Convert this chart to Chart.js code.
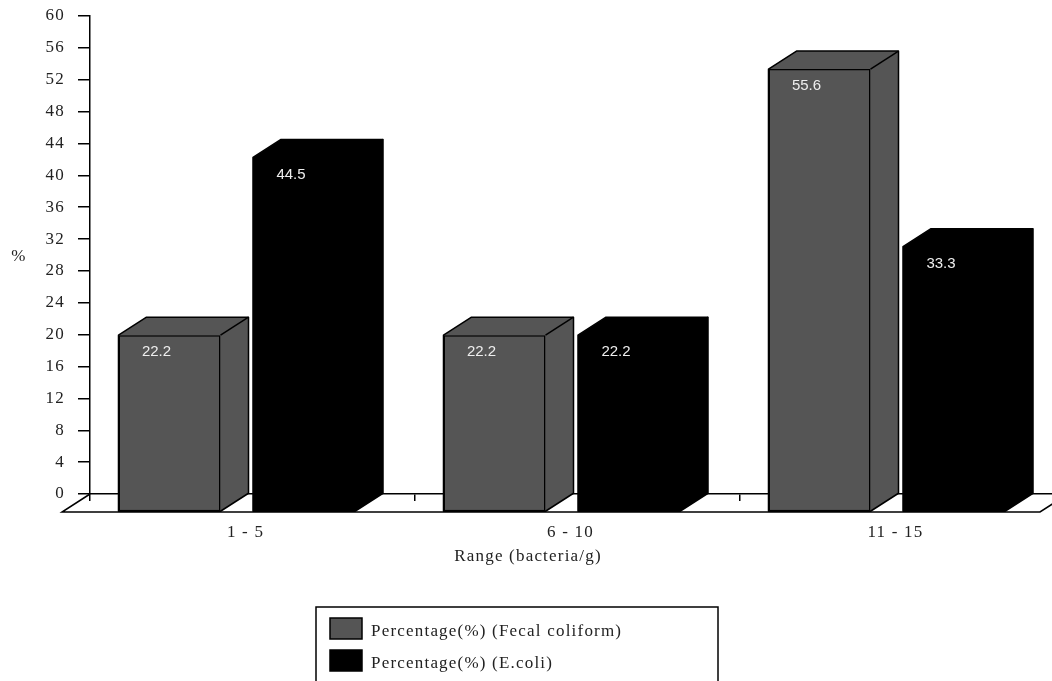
<!DOCTYPE html>
<html>
<head>
<meta charset="utf-8">
<script src="https://cdn.jsdelivr.net/npm/chart.js@4"></script>
<style>
html, body { margin: 0; padding: 0; background: #fff; overflow: hidden; width: 1052px; height: 681px; }
canvas { position: absolute; left: 0; top: 0; }
</style>
</head>
<body>
<canvas id="myChart" width="1100" height="720"></canvas>
<script>
const categories = ["1 - 5", "6 - 10", "11 - 15"];
const fecalValues = [22.2, 22.2, 55.6];
const ecoliValues = [44.5, 22.2, 33.3];
const seriesNames = ["Percentage(%) (Fecal coliform)", "Percentage(%) (E.coli)"];
const seriesColors = ["#555555", "#000000"];
const xTitle = "Range (bacteria/g)";
const yTitle = "%";

const depthX = 28, depthY = 18;   // 3d offset of the bar fronts
const groupShift = [-16.5, -15];  // fronts sit left of the category centre
const serif = "'Liberation Serif'";
const ink = "#222";

// the fake 3d: floor, side faces, shifted fronts
const bars3d = {
    id: 'bars3d',
    beforeDraw(chart) {
        chart.ctx.letterSpacing = '1.2px';
    },
    beforeDatasetsDraw(chart) {
        const ctx = chart.ctx, a = chart.chartArea, y0 = chart.scales.y.getPixelForValue(0);
        ctx.save();
        ctx.strokeStyle = '#000';
        ctx.lineWidth = 1.5;
        ctx.beginPath();
        ctx.moveTo(a.left, y0);
        ctx.lineTo(a.left - depthX, y0 + depthY);
        ctx.lineTo(a.right - depthX + 3, y0 + depthY);
        ctx.lineTo(a.right + 3, y0);
        ctx.stroke();
        ctx.restore();
    },
    beforeDatasetDraw(chart, args) {
        const ctx = chart.ctx;
        const color = chart.data.datasets[args.index].backgroundColor;
        ctx.save();
        ctx.translate(groupShift[args.index], depthY);
        args.meta.data.forEach(el => {
            const l = el.x - el.width / 2, r = el.x + el.width / 2;
            ctx.fillStyle = color;
            ctx.strokeStyle = '#000';
            ctx.lineWidth = 1.5;
            ctx.lineJoin = 'round';
            // whole outline, the front is painted over it by chart.js
            ctx.beginPath();
            ctx.moveTo(l, el.base);
            ctx.lineTo(l, el.y);
            ctx.lineTo(l + depthX, el.y - depthY);
            ctx.lineTo(r + depthX, el.y - depthY);
            ctx.lineTo(r + depthX, el.base - depthY);
            ctx.lineTo(r, el.base);
            ctx.closePath();
            ctx.fill();
            ctx.stroke();
            ctx.beginPath();
            ctx.moveTo(r, el.y);
            ctx.lineTo(r + depthX, el.y - depthY);
            ctx.stroke();
        });
    },
    afterDatasetDraw(chart) {
        chart.ctx.restore();
    },
    afterDatasetsDraw(chart) {
        const ctx = chart.ctx;
        ctx.save();
        ctx.letterSpacing = '0px';
        ctx.fillStyle = '#eee';
        ctx.font = "15px 'Liberation Sans'";
        ctx.textAlign = 'center';
        ctx.textBaseline = 'middle';
        chart.data.datasets.forEach((ds, i) => {
            chart.getDatasetMeta(i).data.forEach((el, j) => {
                ctx.fillText(ds.data[j].toFixed(1), el.x + groupShift[i] - 13, el.y + depthY + 17);
            });
        });
        ctx.restore();
    },
    afterDraw(chart) {
        const ctx = chart.ctx;
        ctx.save();
        ctx.fillStyle = ink;
        ctx.font = "17px " + serif;
        ctx.textAlign = 'center';
        ctx.textBaseline = 'middle';
        // axis titles by hand: % is not rotated and the x title is off centre
        ctx.fillText(yTitle, 19, 257);
        ctx.fillText(xTitle, 528, 557);
        // legend box, runs off the bottom of the page like the original
        ctx.strokeStyle = '#000';
        ctx.lineWidth = 1.5;
        ctx.strokeRect(316, 607, 402, 90);
        ctx.textAlign = 'left';
        chart.data.datasets.forEach((ds, i) => {
            const top = 618 + i * 32;
            ctx.fillStyle = ds.backgroundColor;
            ctx.fillRect(330, top, 32, 21);
            ctx.strokeRect(330, top, 32, 21);
            ctx.fillStyle = ink;
            ctx.fillText(ds.label, 371, top + 14);
        });
        ctx.restore();
    }
};

const config = {
    type: 'bar',
    data: {
        labels: categories,
        datasets: [
            { label: seriesNames[0], data: fecalValues, backgroundColor: seriesColors[0] },
            { label: seriesNames[1], data: ecoliValues, backgroundColor: seriesColors[1] }
        ]
    },
    options: {
        responsive: false,
        animation: false,
        devicePixelRatio: 1,
        categoryPercentage: 0.8185,
        barPercentage: 0.767,
        datasets: {
            bar: { borderColor: '#000', borderWidth: 1.5, borderSkipped: false, clip: false }
        },
        layout: { padding: { left: 0, right: 35, top: 16, bottom: 154 } },
        plugins: {
            legend: { display: false },
            tooltip: { enabled: false },
            title: { display: false }
        },
        scales: {
            x: {
                afterFit: s => { s.height = 72; },
                grid: { drawOnChartArea: false, color: '#000', tickLength: 7, lineWidth: 1.5 },
                border: { color: '#000', width: 1.5 },
                ticks: { color: ink, padding: 21, labelOffset: -7, maxRotation: 0, font: { family: serif, size: 17 } }
            },
            y: {
                min: 0,
                max: 60,
                afterFit: s => { s.width = 90; s.paddingTop = 0; s.paddingBottom = 0; },
                grid: { drawOnChartArea: false, color: '#000', tickLength: 12, lineWidth: 1.5 },
                border: { color: '#000', width: 1.5 },
                ticks: { stepSize: 4, color: ink, padding: 13, font: { family: serif, size: 17 } }
            }
        }
    },
    plugins: [bars3d]
};

const myChart = new Chart(document.getElementById('myChart'), config);
</script>
</body>
</html>
